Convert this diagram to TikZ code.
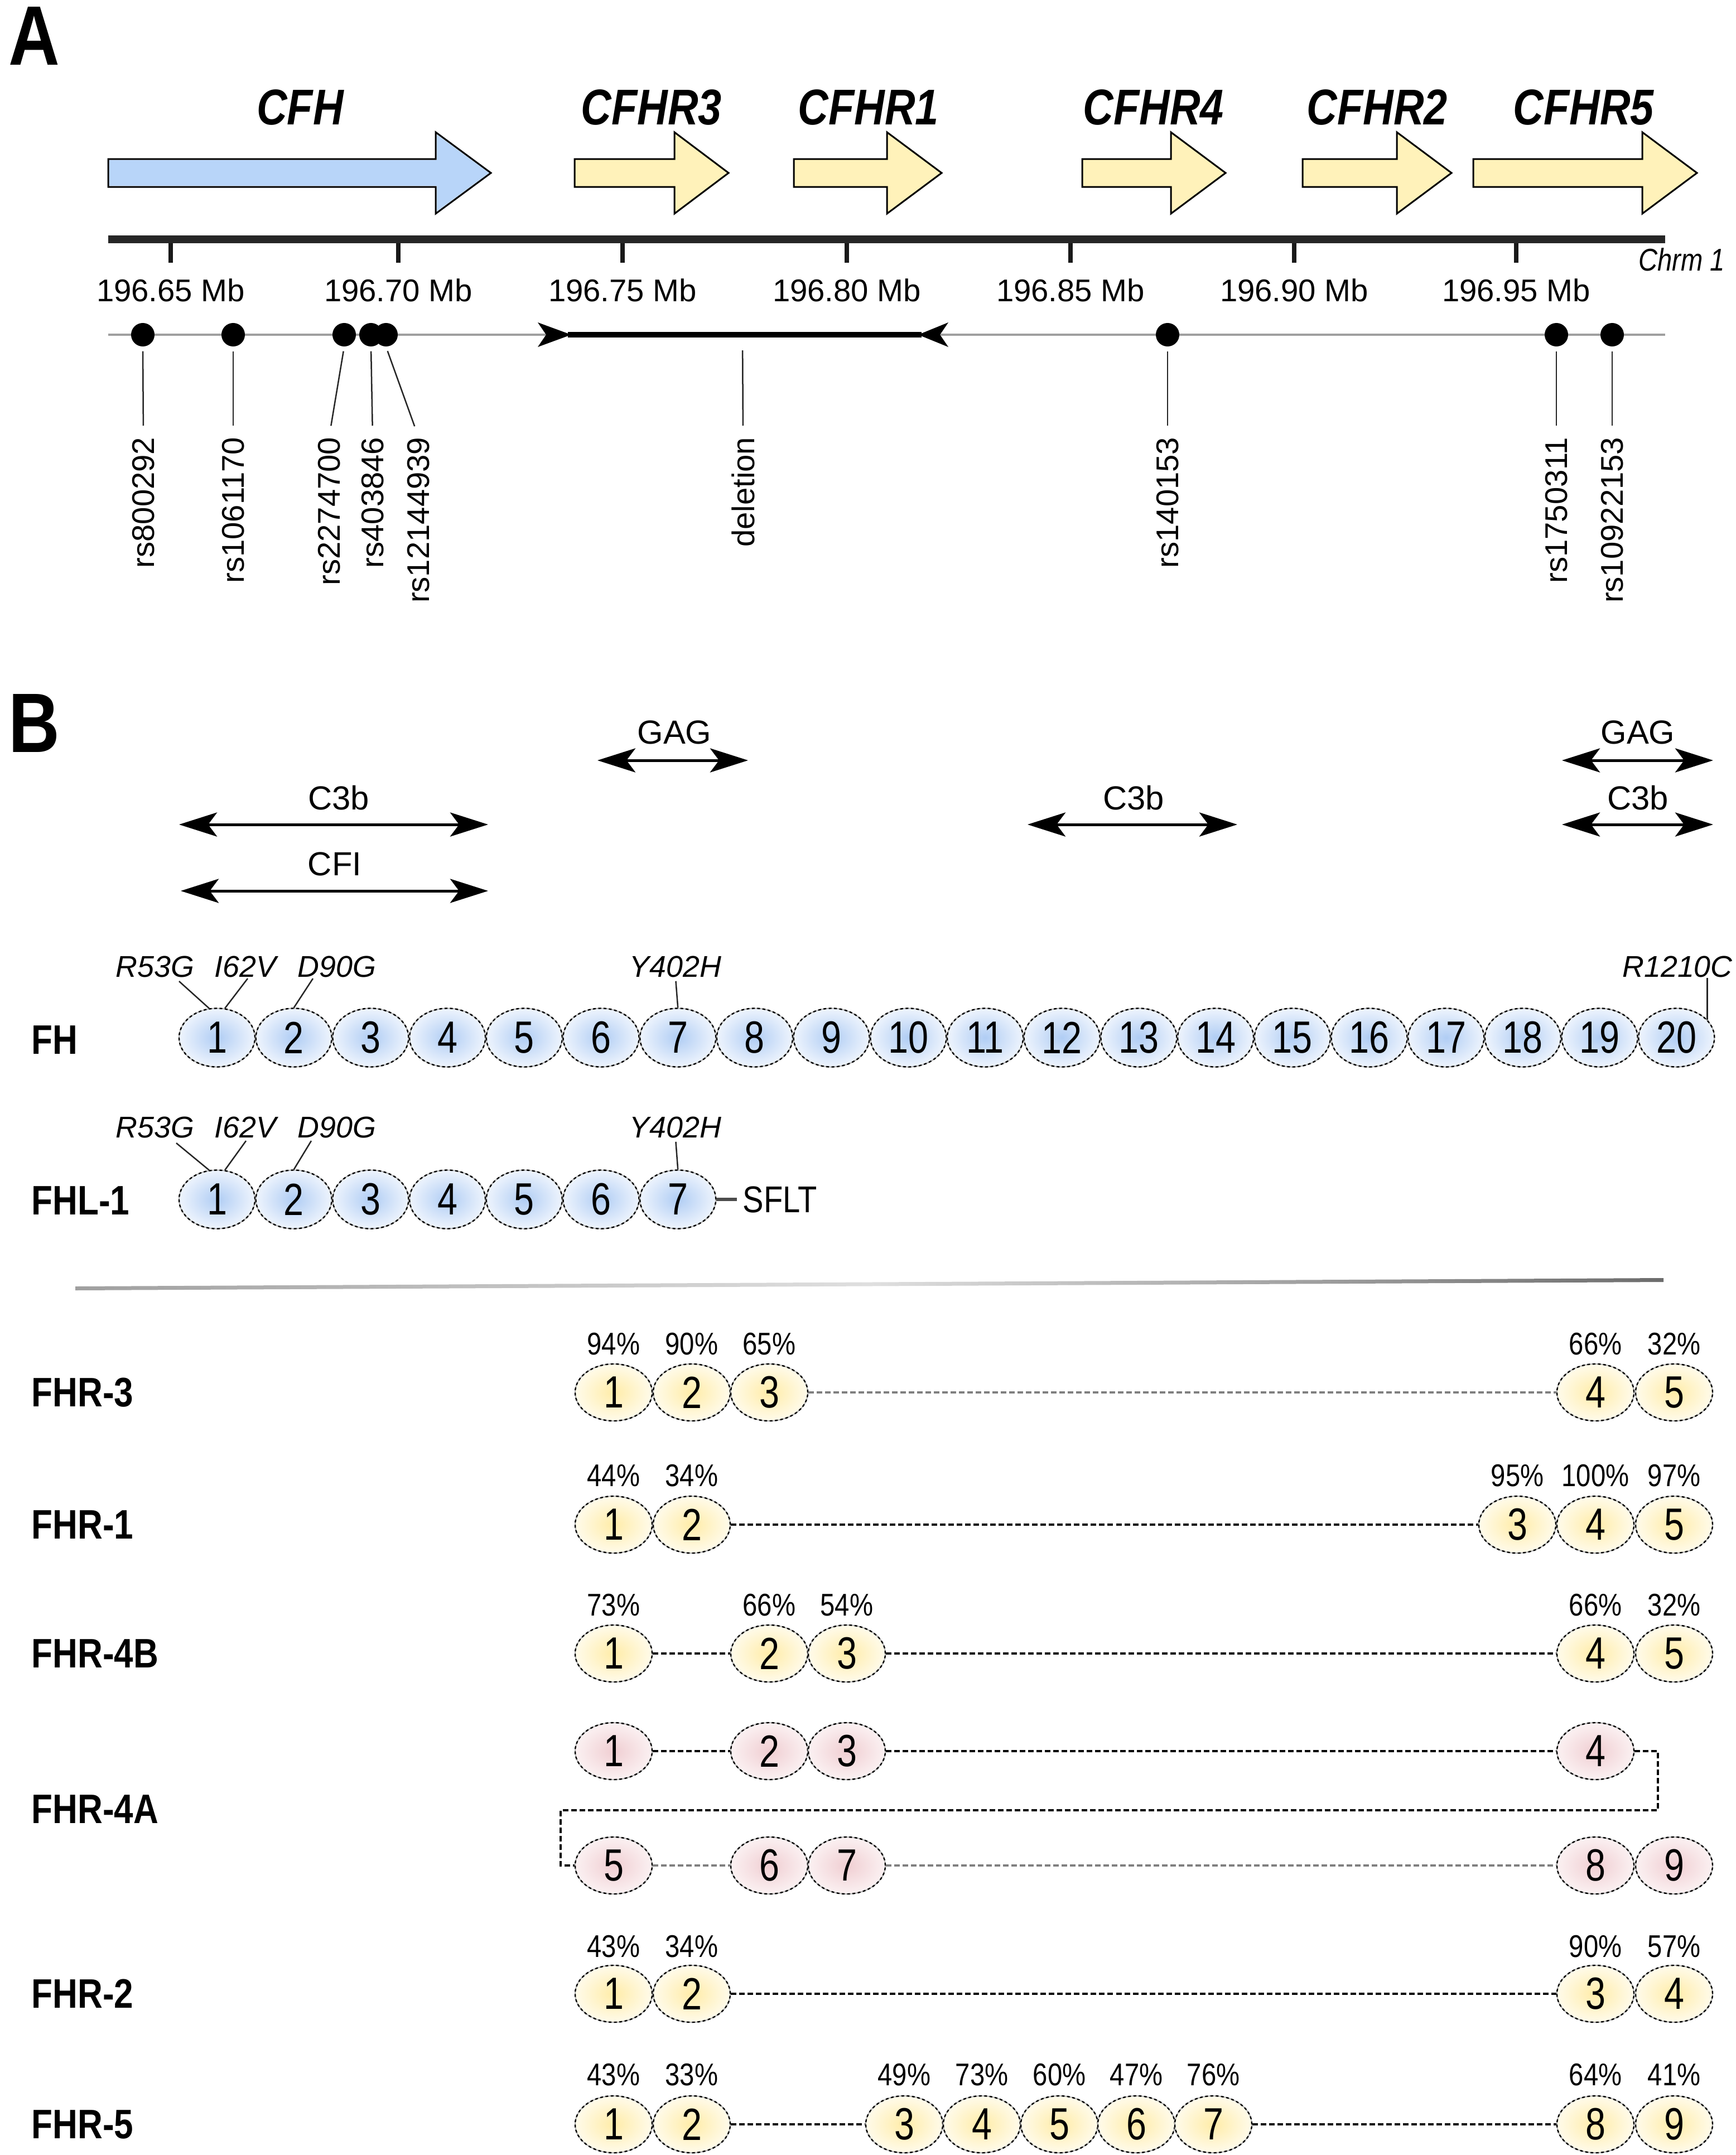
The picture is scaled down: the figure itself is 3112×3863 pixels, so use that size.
\documentclass[tikz,border=0pt]{standalone}
\usepackage{fontspec}
\setmainfont{Liberation Sans}
\newfontfamily\nar[FakeStretch=0.84]{Liberation Sans}
\newfontfamily\narr[FakeStretch=0.8]{Liberation Sans}
\usetikzlibrary{arrows.meta,shapes.geometric}
\newcommand\myfs[1]{\fontsize{#1}{#1}\selectfont}
\definecolor{gblue}{RGB}{184,213,249}
\definecolor{gyel}{RGB}{255,242,186}
\definecolor{dblueI}{RGB}{176,205,244}
\definecolor{dblueO}{RGB}{238,244,253}
\definecolor{dyelI}{RGB}{255,236,168}
\definecolor{dyelO}{RGB}{255,251,235}
\definecolor{dpinkI}{RGB}{240,206,210}
\definecolor{dpinkO}{RGB}{251,241,242}
\newcommand\genearrow[3]{%
  \draw[gene] (#1,285) -- (#2,285) -- (#2,237) -- (#3,310) -- (#2,383) -- (#2,335) -- (#1,335) -- cycle;}
\begin{document}
\begin{tikzpicture}[x=0.01cm,y=-0.01cm,
  gene/.style={draw=black, line width=0.03cm},
  genelab/.style={font=\nar\bfseries\itshape\myfs{25.6}, inner sep=0},
  panlab/.style={font=\nar\bfseries\myfs{43}, inner sep=0},
  ticklab/.style={font=\myfs{16}, inner sep=0},
  rslab/.style={font=\myfs{16}, rotate=90, anchor=east, inner sep=0},
  snpdot/.style={ellipse, fill=black, minimum width=0.42cm, minimum height=0.42cm, inner sep=0},
  lead/.style={line width=0.025cm, black!85},
  bindarr/.style={line width=0.05cm, {Stealth[length=0.68cm,width=0.43cm,inset=0.16cm]}-{Stealth[length=0.68cm,width=0.43cm,inset=0.16cm]}},
  bindlab/.style={font=\myfs{17}, inner sep=0},
  mutlab/.style={font=\itshape\myfs{15.3}, inner sep=0},
  protlab/.style={font=\nar\bfseries\myfs{21}, anchor=west, inner sep=0},
  pctlab/.style={font=\nar\myfs{16}, inner sep=0},
  dom/.style={ellipse, inner sep=0, font=\narr\myfs{23}, draw=gray!60, line width=0.02cm,
    postaction={draw=black, line width=0.024cm, dash pattern=on 0.05cm off 0.045cm}},
  fhdom/.style={dom, minimum width=1.36cm, minimum height=1.05cm, inner color=dblueI, outer color=dblueO},
  ydom/.style={dom, minimum width=1.38cm, minimum height=1.02cm, inner color=dyelI, outer color=dyelO},
  pdom/.style={dom, minimum width=1.38cm, minimum height=1.02cm, inner color=dpinkI, outer color=dpinkO},
  con/.style={line width=0.035cm, black, dash pattern=on 0.1cm off 0.05cm},
  gcon/.style={con, black!50}]
\useasboundingbox (0,0) rectangle (3112,3863);

% ---------------- Panel A ----------------
\node[panlab] (A) at (61,64) {A};

\fill[gblue] (196,287) -- (783,287) -- (783,241) -- (877,310) -- (783,379) -- (783,333) -- (196,333) -- cycle;
\genearrow{194}{781}{880}
\foreach \a/\b/\c in {1030/1209/1306,1423/1590/1688,1940/2099/2197,2335/2504/2602,2641/2944/3042}{
  \fill[gyel] (\a,285) -- (\b,285) -- (\b,237) -- (\c,310) -- (\b,383) -- (\b,335) -- (\a,335) -- cycle;
  \genearrow{\a}{\b}{\c}
}
\node[genelab] (gCFH) at (538,193) {CFH};
\node[genelab] (gR3) at (1168,193) {CFHR3};
\node[genelab] (gR1) at (1557,193) {CFHR1};
\node[genelab] (gR4) at (2068,193) {CFHR4};
\node[genelab] (gR2) at (2469,193) {CFHR2};
\node[genelab] (gR5) at (2839,193) {CFHR5};

% chromosome bar
\coordinate (chrL) at (194,429);
\coordinate (chrR) at (2985,429);
\draw[line width=0.14cm, black!85] (chrL) -- (chrR);
\foreach \x/\t in {306/196.65,714/196.70,1116/196.75,1518/196.80,1919/196.85,2320/196.90,2718/196.95}{
  \coordinate (tk\x) at (\x,436);
  \draw[line width=0.08cm, black!90] (tk\x) -- ++(0,35);
  \node[ticklab] (tl\x) at (\x,520) {\t\ Mb};
}
\node[font=\nar\itshape\myfs{16}, inner sep=0, anchor=east] (chrm) at (3093,465) {Chrm 1};

% SNP line
\coordinate (snpL) at (194,600);
\coordinate (snpR) at (2985,600);
\draw[line width=0.045cm, gray!75] (snpL) -- (snpR);

% deletion
\coordinate (delA) at (1018,600);
\coordinate (delB) at (1652,600);
\coordinate (delM) at (1331,600);
\draw[line width=0.1cm, black] (delA) -- (delB);
\fill[black] (964,578) -- (1024,600) -- (964,622) -- (979,600) -- cycle;
\fill[black] (1700,578) -- (1646,600) -- (1700,622) -- (1685,600) -- cycle;

% SNP dots and labels
\foreach \n/\x/\lx/\t in {1/256/257/rs800292,2/418/418/rs1061170,3/617/590/rs2274700,4/665/668/rs403846,5/692/750/rs12144939,6/2093/2093/rs140153,7/2790/2790/rs1750311,8/2890/2890/rs10922153}{
  \node[snpdot] (d\n) at (\x,600) {};
  \node[rslab] (l\n) at (\lx,783) {\t};
  \draw[lead, shorten <=0.08cm, shorten >=0.2cm] (d\n.south) -- (l\n.east);
}
\node[rslab] (ldel) at (1332,783) {deletion};
\draw[lead, shorten <=0.28cm, shorten >=0.2cm] (delM) -- (ldel.east);

% ---------------- Panel B ----------------
\node[panlab] (B) at (61,1296) {B};

\coordinate (ga1) at (1071,1363); \coordinate (ga2) at (1341,1363);
\coordinate (cb1) at (321,1478); \coordinate (cb2) at (875,1478);
\coordinate (ci1) at (324,1597); \coordinate (ci2) at (875,1597);
\coordinate (cm1) at (1842,1478); \coordinate (cm2) at (2218,1478);
\coordinate (gr1) at (2800,1363); \coordinate (gr2) at (3071,1363);
\coordinate (cr1) at (2800,1478); \coordinate (cr2) at (3071,1478);
\draw[bindarr] (ga1) -- (ga2);
\draw[bindarr] (cb1) -- (cb2);
\draw[bindarr] (ci1) -- (ci2);
\draw[bindarr] (cm1) -- (cm2);
\draw[bindarr] (gr1) -- (gr2);
\draw[bindarr] (cr1) -- (cr2);
\node[bindlab] (tga) at (1209,1313) {GAG};
\node[bindlab] (tcb) at (607,1430) {C3b};
\node[bindlab] (tci) at (600,1549) {CFI};
\node[bindlab] (tcm) at (2032,1430) {C3b};
\node[bindlab] (tgr) at (2936,1313) {GAG};
\node[bindlab] (tcr) at (2936,1430) {C3b};

% FH
\node[protlab] (labFH) at (56,1864) {FH};
\foreach \i in {1,...,20}{
  \node[fhdom] (fh\i) at ({389+137.7*(\i-1)},1860) {\i};
}
\node[mutlab] (m1) at (278,1733) {R53G};
\node[mutlab] (m2) at (440,1733) {I62V};
\node[mutlab] (m3) at (604,1733) {D90G};
\node[mutlab] (m4) at (1211,1733) {Y402H};
\node[mutlab] (m5) at (3007,1733) {R1210C};
\coordinate (m1e) at (321,1759);
\coordinate (m2e) at (444,1754);
\coordinate (m3e) at (561,1754);
\draw[lead] (m1e) -- (fh1.105);
\draw[lead] (m2e) -- (fh1.75);
\draw[lead] (m3e) -- (fh2.north);
\draw[lead, shorten <=0.06cm] (m4.south) -- (fh7.north);
\draw[lead] (fh20.30) -- (fh20.30 |- m5.south);

% FHL-1
\node[protlab] (labFHL) at (56,2152) {FHL-1};
\foreach \i in {1,...,7}{
  \node[fhdom] (fhl\i) at ({389+137.7*(\i-1)},2150) {\i};
}
\node[mutlab] (n1) at (278,2021) {R53G};
\node[mutlab] (n2) at (440,2021) {I62V};
\node[mutlab] (n3) at (604,2021) {D90G};
\node[mutlab] (n4) at (1211,2021) {Y402H};
\coordinate (n1e) at (316,2049);
\coordinate (n2e) at (441,2045);
\coordinate (n3e) at (558,2045);
\draw[lead] (n1e) -- (fhl1.105);
\draw[lead] (n2e) -- (fhl1.75);
\draw[lead] (n3e) -- (fhl2.north);
\draw[lead, shorten <=0.06cm] (n4.south) -- (fhl7.north);
\node[font=\nar\myfs{19}, inner sep=0.1cm, anchor=west] (sflt) at (1321,2150) {SFLT};
\draw[line width=0.06cm, black!70] (fhl7.east) -- (sflt.west);

% separator
\shade[left color=gray!75, right color=gray!85!black, middle color=gray!25]
  (135,2306) -- (2982,2291) -- (2982,2298) -- (135,2313) -- cycle;

% FHR-3
\node[protlab] (lab3) at (56,2496) {FHR-3};
\foreach \n/\x/\p in {1/1100/94,2/1240/90,3/1379/65,4/2860/66,5/3001/32}{
  \node[ydom] (a\n) at (\x,2496) {\n};
  \node[pctlab] (ap\n) at (\x,2409) {\p\%};
}
\draw[gcon] (a3) -- (a4);

% FHR-1
\node[protlab] (lab1) at (56,2733) {FHR-1};
\foreach \n/\x/\p in {1/1100/44,2/1240/34,3/2720/95,4/2860/100,5/3001/97}{
  \node[ydom] (b\n) at (\x,2733) {\n};
  \node[pctlab] (bp\n) at (\x,2645) {\p\%};
}
\draw[con] (b2) -- (b3);

% FHR-4B
\node[protlab] (lab4b) at (56,2964) {FHR-4B};
\foreach \n/\x/\p in {1/1100/73,2/1379/66,3/1518/54,4/2860/66,5/3001/32}{
  \node[ydom] (c\n) at (\x,2964) {\n};
  \node[pctlab] (cp\n) at (\x,2877) {\p\%};
}
\draw[con] (c1) -- (c2);
\draw[con] (c3) -- (c4);

% FHR-4A
\node[protlab] (lab4a) at (56,3243) {FHR-4A};
\foreach \n/\x in {1/1100,2/1379,3/1518,4/2860}{
  \node[pdom] (e\n) at (\x,3139) {\n};
}
\foreach \n/\x in {5/1100,6/1379,7/1518,8/2860,9/3001}{
  \node[pdom] (e\n) at (\x,3344) {\n};
}
\draw[con] (e1) -- (e2);
\draw[con] (e3) -- (e4);
\coordinate (k1) at (2972,3245);
\coordinate (k2) at (1005,3245);
\draw[con] (e4.east) -| (k1) -- (k2) |- (e5.west);
\draw[gcon, line width=0.04cm] (e5) -- (e6);
\draw[gcon, line width=0.04cm] (e7) -- (e8);

% FHR-2
\node[protlab] (lab2) at (56,3574) {FHR-2};
\foreach \n/\x/\p in {1/1100/43,2/1240/34,3/2860/90,4/3001/57}{
  \node[ydom] (f\n) at (\x,3574) {\n};
  \node[pctlab] (fp\n) at (\x,3489) {\p\%};
}
\draw[con] (f2) -- (f3);

% FHR-5
\node[protlab] (lab5) at (56,3808) {FHR-5};
\foreach \n/\x/\p in {1/1100/43,2/1240/33,3/1621/49,4/1760/73,5/1899/60,6/2037/47,7/2175/76,8/2860/64,9/3001/41}{
  \node[ydom] (g\n) at (\x,3808) {\n};
  \node[pctlab] (gp\n) at (\x,3719) {\p\%};
}
\draw[con] (g2) -- (g3);
\draw[con] (g7) -- (g8);
\end{tikzpicture}
\end{document}
